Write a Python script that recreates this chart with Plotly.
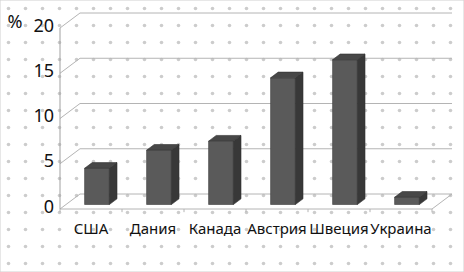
import plotly.graph_objects as go

categories = ["США", "Дания", "Канада", "Австрия", "Швеция", "Украина"]
values = [4, 6, 7, 14, 16, 0.8]
y_ticks = [0, 5, 10, 15, 20]
y_unit = "%"

W, H = 464, 272
PX_X = 62.0      # pixels per category
PX_Y = 9.05      # pixels per value unit
X0_PX, Y0_PX = 60, 209
DEPTH_DX = 20 / PX_X
DEPTH_DY = 15 / PX_Y
N = len(categories)
YMAX = max(y_ticks)

BW = 0.40        # bar width (category units)
D0, D1 = 0.30, 0.68  # bar depth span

def P(x, v, d):
    return x + d * DEPTH_DX, v + d * DEPTH_DY

xr = [-X0_PX / PX_X, (W - X0_PX) / PX_X]
yr = [-(H - Y0_PX) / PX_Y, Y0_PX / PX_Y]

fig = go.Figure()

# ---- base layer (x/y): dotted background + walls ----
fig.add_trace(go.Scatter(
    x=[xr[0], xr[1], xr[1], xr[0], xr[0]],
    y=[yr[0], yr[0], yr[1], yr[1], yr[0]],
    mode="lines", line=dict(width=0), fill="toself", fillcolor="white",
    fillpattern=dict(shape=".", fgcolor="#9a9a9a", bgcolor="white", size=17, solidity=0.035),
    hoverinfo="skip", xaxis="x", yaxis="y"))

gx, gy = [], []
for v in y_ticks:
    for (x, d) in [(0, 0), (0, 1), (N, 1)]:
        px, py = P(x, v, d)
        gx.append(px); gy.append(py)
    gx.append(None); gy.append(None)
for (x, d) in [(0, 0), (N, 0), (N, 1)]:
    px, py = P(x, 0, d)
    gx.append(px); gy.append(py)
gx.append(None); gy.append(None)
for i in range(N + 1):
    for v in (0, -0.35):
        px, py = P(i, v, 0)
        gx.append(px); gy.append(py)
    gx.append(None); gy.append(None)
fig.add_trace(go.Scatter(x=gx, y=gy, mode="lines",
                         line=dict(color="#b4b4b4", width=1), hoverinfo="skip",
                         xaxis="x", yaxis="y"))

ax0 = P(0, 0, 0); ax1 = P(0, YMAX, 0)
fig.add_trace(go.Scatter(x=[ax0[0], ax1[0]], y=[ax0[1], ax1[1]], mode="lines",
                         line=dict(color="#a0a0a0", width=1), hoverinfo="skip",
                         xaxis="x", yaxis="y"))

# ---- overlay layer (x2/y2): bars ----
fig.add_trace(go.Bar(
    x=[i + 0.5 + D0 * DEPTH_DX for i in range(N)],
    y=values, base=D0 * DEPTH_DY, width=BW,
    marker=dict(color="#5a5a5a", line=dict(color="#3c3c3c", width=0.6)),
    hoverinfo="skip", xaxis="x2", yaxis="y2"))

for i, v in enumerate(values):
    xl = i + 0.5 - BW / 2
    xrr = i + 0.5 + BW / 2
    side = [P(xrr, 0, D0), P(xrr, v, D0), P(xrr, v, D1), P(xrr, 0, D1), P(xrr, 0, D0)]
    top = [P(xl, v, D0), P(xrr, v, D0), P(xrr, v, D1), P(xl, v, D1), P(xl, v, D0)]
    fig.add_trace(go.Scatter(x=[p[0] for p in side], y=[p[1] for p in side],
                             mode="lines", fill="toself", fillcolor="#383838",
                             line=dict(color="#303030", width=0.6), hoverinfo="skip",
                             xaxis="x2", yaxis="y2"))
    fig.add_trace(go.Scatter(x=[p[0] for p in top], y=[p[1] for p in top],
                             mode="lines", fill="toself", fillcolor="#474747",
                             line=dict(color="#333333", width=0.6), hoverinfo="skip",
                             xaxis="x2", yaxis="y2"))

# text
fig.add_trace(go.Scatter(
    x=[P(0, v, 0)[0] - 6 / PX_X for v in y_ticks], y=[v + 0.1 for v in y_ticks],
    mode="text", text=[str(v) for v in y_ticks], textposition="middle left",
    textfont=dict(family="Noto Sans", size=18, color="#111111"), hoverinfo="skip",
    xaxis="x2", yaxis="y2"))

fig.add_trace(go.Scatter(
    x=[i + 0.5 for i in range(N)], y=[-2.3] * N,
    mode="text", text=categories, textposition="middle center",
    textfont=dict(family="Noto Sans", size=15, color="#111111"), hoverinfo="skip",
    xaxis="x2", yaxis="y2"))

fig.add_trace(go.Scatter(
    x=[(15 - X0_PX) / PX_X], y=[(Y0_PX - 23) / PX_Y],
    mode="text", text=[y_unit], textposition="middle center",
    textfont=dict(family="Noto Sans", size=18, color="#111111"), hoverinfo="skip",
    xaxis="x2", yaxis="y2"))

fig.update_layout(
    width=W, height=H, margin=dict(l=0, r=0, t=0, b=0),
    paper_bgcolor="white", plot_bgcolor="white",
    showlegend=False, hovermode=False,
    xaxis=dict(range=xr, visible=False, fixedrange=True),
    yaxis=dict(range=yr, visible=False, fixedrange=True),
    xaxis2=dict(range=xr, visible=False, fixedrange=True, overlaying="x"),
    yaxis2=dict(range=yr, visible=False, fixedrange=True, overlaying="y"),
    shapes=[dict(type="rect", xref="paper", yref="paper", x0=0, y0=0, x1=1, y1=1,
                 line=dict(color="#d0d0d0", width=1))],
)

fig.write_html("out.html", config={"displayModeBar": False},
               post_script="document.body.style.margin='0';document.body.style.padding='0';")
